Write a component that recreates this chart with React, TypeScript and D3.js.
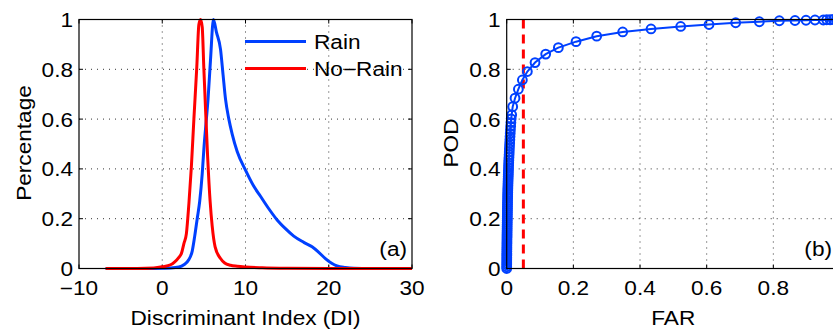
import React from "react";
import * as d3 from "d3";

// ---------- data ----------
const rainDI = [-6.8, -2, 0, 1, 2, 2.6, 3.2, 3.6, 3.9, 4.2, 4.5, 4.8, 5.0, 5.3, 5.5, 5.8, 6.15, 6.5, 7.0, 7.3, 7.6, 8.0, 8.4, 9.0, 10, 11, 11.8, 12.8, 13.8, 14.8, 15.8, 17, 18, 18.8, 19.6, 20.3, 21, 22, 23, 25, 30];
const rainPct = [0, 0, 0.001, 0.002, 0.006, 0.015, 0.036, 0.07, 0.13, 0.2, 0.27, 0.38, 0.48, 0.6, 0.68, 0.84, 1.0, 0.95, 0.88, 0.78, 0.68, 0.6, 0.54, 0.47, 0.395, 0.33, 0.29, 0.24, 0.195, 0.16, 0.13, 0.105, 0.087, 0.065, 0.04, 0.022, 0.01, 0.004, 0.001, 0, 0];

const noRainDI = [-6.8, -3, -1, 0, 1, 1.5, 2.0, 2.3, 2.6, 2.9, 3.2, 3.5, 3.8, 4.15, 4.4, 4.6, 4.8, 5.0, 5.15, 5.45, 5.75, 6.0, 6.35, 7.0, 7.5, 8.2, 9, 10, 12, 15, 20, 30];
const noRainPct = [0, 0, 0.002, 0.007, 0.015, 0.027, 0.045, 0.06, 0.1, 0.14, 0.26, 0.41, 0.6, 0.81, 0.98, 1.0, 0.97, 0.8, 0.68, 0.45, 0.27, 0.17, 0.087, 0.04, 0.022, 0.013, 0.009, 0.006, 0.003, 0.001, 0, 0];

const rocFAR = [
  0, 0.0001, 0.0001, 0.0002, 0.0002, 0.0003, 0.0003, 0.0004, 0.0004, 0.0005,
  0.0005, 0.0006, 0.0006, 0.0007, 0.0008, 0.0008, 0.0009, 0.001, 0.001, 0.0011,
  0.0012, 0.0013, 0.0013, 0.0014, 0.0015, 0.0016, 0.0017, 0.0018, 0.0019, 0.002,
  0.0021, 0.0022, 0.0023, 0.0024, 0.0025, 0.0026, 0.0028, 0.0029, 0.003, 0.0032,
  0.0033, 0.0035, 0.0037, 0.0039, 0.0041, 0.0043, 0.0045, 0.0047, 0.005, 0.0052,
  0.0055, 0.0058, 0.0061, 0.0064, 0.0068, 0.0072, 0.0076, 0.008, 0.0085, 0.009,
  0.0095, 0.01, 0.0106, 0.0112, 0.0119, 0.0126, 0.0134, 0.015,
  0.018, 0.025, 0.035, 0.047, 0.062, 0.085, 0.117, 0.155, 0.208, 0.27, 0.348, 0.433, 0.522, 0.607, 0.687, 0.758, 0.818, 0.865, 0.898, 0.925, 0.95, 0.96, 0.97, 0.98, 0.99, 1.0,
];
const rocPOD = [
  0, 0.007, 0.015, 0.022, 0.03, 0.038, 0.045, 0.053, 0.06, 0.068,
  0.076, 0.083, 0.091, 0.099, 0.106, 0.114, 0.122, 0.13, 0.137, 0.145,
  0.153, 0.161, 0.169, 0.177, 0.185, 0.193, 0.201, 0.209, 0.217, 0.225,
  0.233, 0.241, 0.249, 0.257, 0.265, 0.273, 0.282, 0.29, 0.298, 0.306,
  0.315, 0.323, 0.332, 0.341, 0.35, 0.359, 0.368, 0.377, 0.386, 0.395,
  0.405, 0.415, 0.425, 0.435, 0.446, 0.457, 0.468, 0.48, 0.492, 0.504,
  0.517, 0.53, 0.543, 0.557, 0.571, 0.586, 0.601, 0.617,
  0.65, 0.684, 0.72, 0.757, 0.791, 0.827, 0.861, 0.887, 0.911, 0.933, 0.95, 0.962, 0.972, 0.98, 0.987, 0.991, 0.995, 0.996, 0.997, 0.998, 0.998, 0.999, 0.999, 1.0, 1.0, 1.0,
];

const leftXTicks = [-10, 0, 10, 20, 30];
const yTicks = [0, 0.2, 0.4, 0.6, 0.8, 1];
const rightXTicks = [0, 0.2, 0.4, 0.6, 0.8];
const farThreshold = 0.05;
const legendLabels = ["Rain", "No\u2212Rain"];

// ---------- styling ----------
const W = 833;
const H = 330;
const BLUE = "rgb(0,64,255)";
const RED = "rgb(255,0,0)";
const FONT = "'Liberation Sans', Arial, Helvetica, sans-serif";
const FS = 19.5;
const SX = 1.16;
const TOP = 19.5;
const BOTTOM = 268.5;

const fmtY = (v: number) => (v === 0 ? "0" : v === 1 ? "1" : String(v));
const fmtX = (v: number) => (v < 0 ? "\u2212" + Math.abs(v) : String(v));

function T({ x, y, anchor = "middle", rotate = 0, children }: any) {
  return (
    <text
      transform={`translate(${x},${y}) rotate(${rotate}) scale(${SX},1)`}
      textAnchor={anchor}
      fontFamily={FONT}
      fontSize={FS}
      fill="#000"
    >
      {children}
    </text>
  );
}

function Frame({ x, y, xTicks, gridX, gridY, x0, x1, xFmt }: any) {
  return (
    <g>
      {gridX.map((t: number) => (
        <line key={"gx" + t} x1={x(t)} x2={x(t)} y1={TOP} y2={BOTTOM} stroke="#333" strokeWidth={1} strokeDasharray="1,5" />
      ))}
      {gridY.map((t: number) => (
        <line key={"gy" + t} x1={x0} x2={x1} y1={y(t)} y2={y(t)} stroke="#333" strokeWidth={1} strokeDasharray="1,5" />
      ))}
      {xTicks.map((t: number) => (
        <g key={"xt" + t}>
          <line x1={x(t)} x2={x(t)} y1={BOTTOM} y2={BOTTOM - 4} stroke="#000" />
          <line x1={x(t)} x2={x(t)} y1={TOP} y2={TOP + 4} stroke="#000" />
          <T x={x(t)} y={295}>{xFmt(t)}</T>
        </g>
      ))}
      {yTicks.map((t: number) => (
        <g key={"yt" + t}>
          <line x1={x0} x2={x0 + 4} y1={y(t)} y2={y(t)} stroke="#000" />
          <line x1={x1} x2={x1 - 4} y1={y(t)} y2={y(t)} stroke="#000" />
          <T x={x0 - 6} y={y(t) + 7.5} anchor="end">{fmtY(t)}</T>
        </g>
      ))}
    </g>
  );
}

export default function App() {
  const xL = d3.scaleLinear().domain([-10, 30]).range([79, 412]);
  const yS = d3.scaleLinear().domain([0, 1]).range([BOTTOM, TOP]);
  const xR = d3.scaleLinear().domain([0, 1]).range([506.7, 840]);

  const lineL = d3
    .line<[number, number]>()
    .x((d) => xL(d[0]))
    .y((d) => yS(d[1]))
    .curve(d3.curveMonotoneX);

  const rainPts = rainDI.map((v, i) => [v, rainPct[i]] as [number, number]);
  const noRainPts = noRainDI.map((v, i) => [v, noRainPct[i]] as [number, number]);
  const rocPts = rocFAR.map((v, i) => [v, rocPOD[i]] as [number, number]);
  const lineR = d3
    .line<[number, number]>()
    .x((d) => xR(d[0]))
    .y((d) => yS(d[1]));

  return (
    <svg width={W} height={H} style={{ position: "absolute", left: 0, top: 0, background: "#fff" }}>
      <rect x={0} y={0} width={W} height={H} fill="#fff" />
      {/* left panel */}
      <Frame x={xL} y={yS} xTicks={leftXTicks} gridX={[0, 10, 20]} gridY={[0.2, 0.4, 0.6, 0.8]} x0={79} x1={412} xFmt={fmtX} />
      <path d={lineL(rainPts) || ""} fill="none" stroke={BLUE} strokeWidth={3} strokeLinejoin="round" />
      <path d={lineL(noRainPts) || ""} fill="none" stroke={RED} strokeWidth={3} strokeLinejoin="round" />
      <rect x={79} y={TOP} width={412 - 79} height={BOTTOM - TOP} fill="none" stroke="#000" strokeWidth={1.2} />
      {/* legend */}
      <line x1={245} x2={306} y1={41.5} y2={41.5} stroke={BLUE} strokeWidth={3} />
      <line x1={245} x2={306} y1={68.5} y2={68.5} stroke={RED} strokeWidth={3} />
      <T x={314} y={48.7} anchor="start">{legendLabels[0]}</T>
      <T x={314} y={75.7} anchor="start">{legendLabels[1]}</T>
      <T x={407} y={256} anchor="end">(a)</T>
      <T x={245.5} y={325} anchor="middle">Discriminant Index (DI)</T>
      <T x={31} y={143} anchor="middle" rotate={-90}>Percentage</T>

      {/* right panel */}
      <Frame x={xR} y={yS} xTicks={rightXTicks} gridX={[0.2, 0.4, 0.6, 0.8]} gridY={[0.2, 0.4, 0.6, 0.8]} x0={506.7} x1={840} xFmt={(v: number) => String(v)} />
      <line x1={xR(farThreshold)} x2={xR(farThreshold)} y1={yS(1)} y2={yS(0)} stroke={RED} strokeWidth={3} strokeDasharray="9,6" />
      <path d={lineR(rocPts) || ""} fill="none" stroke={BLUE} strokeWidth={2} />
      {rocPts.map((d, i) => (
        <circle key={i} cx={xR(d[0])} cy={yS(d[1])} r={4.4} fill="none" stroke={BLUE} strokeWidth={2} />
      ))}
      <rect x={506.7} y={TOP} width={840 - 506.7} height={BOTTOM - TOP} fill="none" stroke="#000" strokeWidth={1.2} />
      <T x={832} y={256} anchor="end">(b)</T>
      <T x={673.3} y={325} anchor="middle">FAR</T>
      <T x={458} y={143} anchor="middle" rotate={-90}>POD</T>
    </svg>
  );
}
